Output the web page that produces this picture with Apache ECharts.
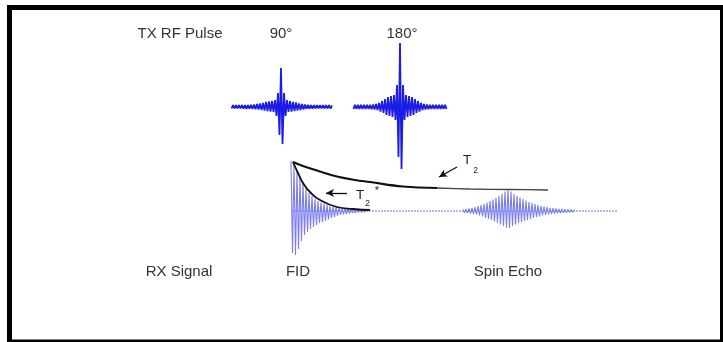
<!DOCTYPE html>
<html><head><meta charset="utf-8">
<script src="https://cdn.jsdelivr.net/npm/echarts@6/dist/echarts.min.js"></script>
<style>html,body{margin:0;padding:0;background:#fff}#c{width:723px;height:342px}</style>
</head><body><div id="c"></div>
<script>
// time step between successive half-cycle samples (ms, arbitrary units)
const STEP = 0.15;
// TX: 90 degree RF pulse (amplitude a.u.), starts at t = -4.95 ms, peak at t = 0
const pulse90Start = -4.95;
const pulse90 = [
  -1.5, 1.8, -1.5, 1.8, -1.5, 1.8, -1.5, 1.8, -1.6, 2, -1.8, 2, -1.8, 2.2, -2, 2.5,
  -2.2, 3, -2.5, 3.5, -3, 4, -3.5, 5, -4, 5.5, -4.5, 6, -5, 7, -9, 14, -28,
  39,
  -37, 14, -9, 7, -5, 6, -4.5, 5, -4, 4.5, -3.5, 3.5, -3, 3, -2.5, 2.5,
  -2, 2.2, -1.8, 2, -1.6, 1.8, -1.5, 1.8, -1.5, 1.8, -1.5, 1.8, -1.5, 1.8, -1.5, 1.8, -1.5, 1.5
];
// TX: 180 degree RF pulse, starts at t = 7.25 ms, peak at t = 11.9
const pulse180Start = 7.25;
const pulse180 = [
  -2, 2.2, -2, 2.2, -2, 2.2, -2, 2.2, -2, 2.2, -2, 2.2, -2.2, 2.5, -2.5, 3,
  -3, 4, -4.5, 6, -6, 8, -8, 10, -9, 11, -10, 12, -13, 22, -50,
  64,
  -62, 22, -13, 12, -10, 11, -9, 10, -8, 8, -6, 6, -4.5, 4, -3, 3,
  -2.5, 2.5, -2.2, 2.2, -2, 2.2, -2, 2.2, -2, 2.2, -2, 2.2, -2, 2.2, -2
];
// RX: free induction decay, starts at t = 1.0 ms
const fidStart = 1.0;
const fid = [
  50, -42, 47, -44, 40, -38, 34, -30, 29, -24, 23, -21, 18, -18, 15, -16,
  12, -14, 10, -12, 8.5, -11, 7.5, -10, 6, -8.5, 5, -7, 4.5, -6, 4, -5,
  3.5, -4, 3, -3.5, 2.5, -3, 2, -2.5, 2, -2, 1.5, -2, 1.5, -1.5, 1.2, -1.5, 1.2, -1.2, 1
];
// RX: spin echo, starts at t = 18.2 ms, peak at t = 22.7
const echoStart = 18.2;
const echo = [
  1.5, -1.8, 2, -2, 2.5, -2.5, 3, -3, 4, -3.5, 5, -4.5, 6, -5.5, 7, -7,
  8.5, -8, 10, -9, 11.5, -10.5, 13, -12, 15, -13.5, 17, -15, 19.5, -16.5,
  22,
  -17, 19.5, -15, 17, -13.5, 15, -12, 13.5, -11, 12, -10, 10.5, -9, 9, -8, 8,
  -7, 7, -6, 6, -5.5, 5, -4.5, 4.5, -4, 4, -3.5, 3, -3, 2.8, -2.5, 2.5,
  -2.2, 2, -2, 2, -1.8, 1.8, -1.6, 1.5, -1.5, 1.5, -1.3, 1.2
];
// RX baseline extent [t, amplitude]
const rxBaseline = [[1.0, 0], [33.7, 0]];
// Envelopes [t, amplitude]
const t2Curve = [[1.2, 49], [2.2, 45], [3.9, 39.5], [5.6, 34.5], [7.4, 31], [8.9, 29], [12.2, 24.5], [15.6, 23]];
const t2Tail = [[15.6, 23], [18.9, 22], [22.9, 21.5], [26.7, 21]];
const t2StarCurve = [[1.2, 49], [1.7, 38], [2.2, 28], [2.9, 19], [3.9, 11], [5.6, 4], [7.2, 2], [8.9, 1]];
// Annotation arrows [from, to]
const t2Arrow = [[17.6, 44], [15.8, 34]];
const t2StarArrow = [[6.6, 18], [4.5, 18]];
// Text labels
const txLabels = ['TX RF Pulse', '90°', '180°'];
const rxLabels = ['RX Signal', 'FID', 'Spin Echo'];

const toXY = (arr, start) => arr.map((v, i) => [+(start + i * STEP).toFixed(3), v]);

const TX_BLUE = '#1c1ce4';
const RX_BLUE = '#7b7ef0';
const FONT = 'Liberation Sans, Arial, Helvetica, sans-serif';

const chart = echarts.init(document.getElementById('c'), null, {renderer: 'canvas'});
const xAx = (g) => ({type: 'value', gridIndex: g, min: -28.1, max: 44.2, show: false});
const txt = (s, x, y, size, color, align) => ({
  type: 'text', x: x, y: y, silent: true,
  style: {text: s, fontSize: size, fontFamily: FONT, fill: color || '#333',
          align: align || 'center', verticalAlign: 'middle'}
});
const arrowMark = (pair) => ({
  silent: true, animation: false, symbol: ['none', 'arrow'], symbolSize: [6, 8],
  label: {show: false}, lineStyle: {color: '#111', width: 1.3, type: 'solid'},
  data: [[{coord: pair[0]}, {coord: pair[1]}]]
});

chart.setOption({
  animation: false,
  backgroundColor: '#fff',
  grid: [
    {left: 0, right: 0, top: 37, height: 140},
    {left: 0, right: 0, top: 151, height: 120}
  ],
  xAxis: [xAx(0), xAx(1)],
  yAxis: [
    {type: 'value', gridIndex: 0, min: -70, max: 70, show: false},
    {type: 'value', gridIndex: 1, min: -60, max: 60, show: false}
  ],
  series: [
    {type: 'line', xAxisIndex: 0, yAxisIndex: 0, data: toXY(pulse90, pulse90Start), showSymbol: false,
     lineStyle: {color: TX_BLUE, width: 1.8}, silent: true},
    {type: 'line', xAxisIndex: 0, yAxisIndex: 0, data: toXY(pulse180, pulse180Start), showSymbol: false,
     lineStyle: {color: TX_BLUE, width: 1.8}, silent: true},
    {type: 'line', xAxisIndex: 1, yAxisIndex: 1, data: rxBaseline, showSymbol: false,
     lineStyle: {color: '#9ea1f3', width: 1.3, type: [2, 1]}, silent: true},
    {type: 'line', xAxisIndex: 1, yAxisIndex: 1, data: toXY(fid, fidStart), showSymbol: false,
     lineStyle: {color: RX_BLUE, width: 1.1}, silent: true},
    {type: 'line', xAxisIndex: 1, yAxisIndex: 1, data: toXY(echo, echoStart), showSymbol: false,
     lineStyle: {color: RX_BLUE, width: 1.1}, silent: true},
    {type: 'line', xAxisIndex: 1, yAxisIndex: 1, data: t2Curve, showSymbol: false, smooth: 0.4,
     lineStyle: {color: '#111', width: 2.2}, silent: true, markLine: arrowMark(t2Arrow)},
    {type: 'line', xAxisIndex: 1, yAxisIndex: 1, data: t2Tail, showSymbol: false, smooth: 0.3,
     lineStyle: {color: '#444', width: 1.3}, silent: true},
    {type: 'line', xAxisIndex: 1, yAxisIndex: 1, data: t2StarCurve, showSymbol: false, smooth: 0.5,
     lineStyle: {color: '#111', width: 1.8}, silent: true, markLine: arrowMark(t2StarArrow)}
  ],
  graphic: [
    {type: 'rect', silent: true, shape: {x: 9.5, y: 7.5, width: 713, height: 334.5},
     style: {fill: 'none', stroke: '#000', lineWidth: 5}},
    txt(txLabels[0], 180, 33.5, 15),
    txt(txLabels[1], 281, 33.5, 15),
    txt(txLabels[2], 402, 33.5, 15),
    txt(rxLabels[0], 179, 272, 15),
    txt(rxLabels[1], 298, 272, 15),
    txt(rxLabels[2], 508, 272, 15),
    txt('T', 467, 160.5, 13.5, '#222'),
    txt('2', 475.5, 170.5, 8.5, '#222'),
    txt('T', 360, 195, 13.5, '#222'),
    txt('2', 367.5, 203.5, 8.5, '#222'),
    txt('*', 377, 191, 11, '#222')
  ]
});
</script></body></html>
